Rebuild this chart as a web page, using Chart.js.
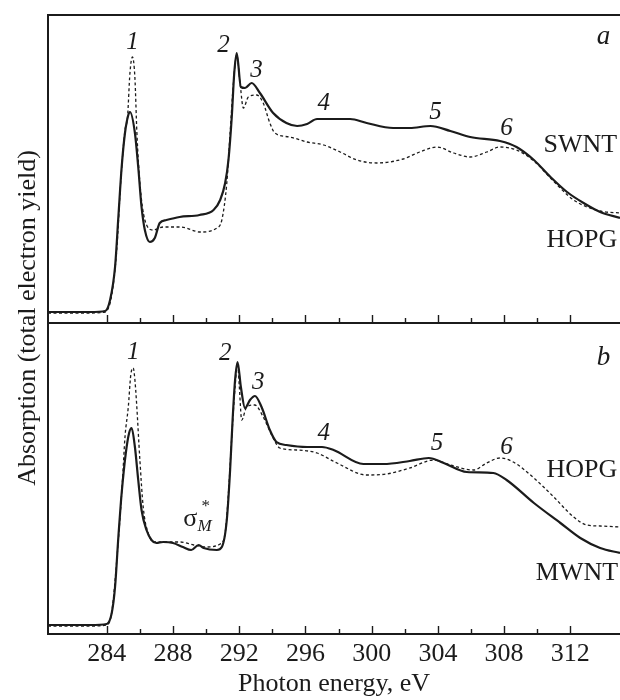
<!DOCTYPE html>
<html>
<head>
<meta charset="utf-8">
<script src="https://cdn.jsdelivr.net/npm/chart.js@4/dist/chart.umd.min.js"></script>
<style>
    html, body { margin: 0; padding: 0; background: #fff; }
    #wrap { width: 620px; height: 700px; }
</style>
</head>
<body>
<div id="wrap"><canvas id="xanes" width="620" height="700"></canvas></div>
<script>
// photon energy (eV) / absorption (arb. units)
// panel a
const swntE = [280.45, 283.0, 283.9, 284.2, 284.5, 284.7, 284.9, 285.1, 285.3, 285.4,
    285.7, 285.9, 286.1, 286.3, 286.6, 286.9, 287.2, 287.6, 288.4, 289.6,
    290.45, 290.85, 291.15, 291.35, 291.55, 291.7, 291.85, 292.1, 292.35, 292.75,
    293.25, 294.05, 294.85, 295.5, 296.1, 296.7, 298.1, 298.7, 299.7, 301.3,
    302.3, 303.55, 304.75, 305.95, 307.75, 308.75, 309.8, 310.8, 311.8, 312.8,
    313.8, 315.0];
const swntA = [0.11, 0.11, 0.12, 0.23, 0.56, 1.06, 1.56, 1.90, 2.08, 2.11,
    1.90, 1.56, 1.16, 0.93, 0.81, 0.85, 1.00, 1.03, 1.06, 1.08,
    1.13, 1.23, 1.40, 1.63, 2.06, 2.50, 2.70, 2.36, 2.35, 2.40,
    2.30, 2.10, 2.00, 1.97, 1.99, 2.04, 2.04, 2.04, 2.00, 1.95,
    1.95, 1.97, 1.92, 1.86, 1.82, 1.76, 1.63, 1.46, 1.31, 1.20,
    1.11, 1.05];
const hopgAE = [280.45, 283.0, 283.9, 284.3, 284.6, 284.85, 285.1, 285.25, 285.4, 285.55,
    285.7, 285.82, 286.0, 286.3, 286.8, 287.4, 288.45, 289.65, 290.65, 290.95,
    291.25, 291.45, 291.65, 291.85, 292.05, 292.25, 292.55, 293.05, 293.45, 293.85,
    294.15, 295.05, 296.1, 297.1, 298.1, 299.1, 300.3, 301.9, 302.9, 303.95,
    304.95, 305.95, 306.95, 307.75, 308.75, 309.8, 310.8, 312.2, 313.8, 315.0];
const hopgAA = [0.10, 0.10, 0.11, 0.28, 0.73, 1.43, 1.93, 2.05, 2.50, 2.66,
    2.45, 1.90, 1.40, 1.03, 0.93, 0.96, 0.96, 0.91, 0.95, 1.03,
    1.40, 1.90, 2.40, 2.68, 2.40, 2.15, 2.26, 2.28, 2.20, 2.00,
    1.90, 1.86, 1.81, 1.78, 1.71, 1.63, 1.60, 1.64, 1.71, 1.76,
    1.70, 1.66, 1.71, 1.76, 1.73, 1.62, 1.45, 1.23, 1.12, 1.10];
// panel b
const mwntE = [280.45, 283.0, 284.0, 284.3, 284.5, 284.7, 284.9, 285.15, 285.35, 285.5,
    285.7, 285.9, 286.1, 286.4, 286.7, 287.0, 287.4, 288.0, 288.6, 289.1,
    289.55, 289.85, 290.65, 290.95, 291.25, 291.45, 291.6, 291.75, 291.9, 292.1,
    292.35, 292.65, 292.95, 293.35, 293.85, 294.25, 294.85, 296.1, 297.0, 297.7,
    299.5, 300.7, 302.3, 303.45, 304.35, 305.75, 307.35, 308.15, 309.8, 311.4,
    312.6, 313.8, 315.0];
const mwntA = [0.09, 0.09, 0.10, 0.21, 0.47, 0.97, 1.41, 1.81, 2.01, 2.06,
    1.87, 1.54, 1.24, 1.04, 0.94, 0.91, 0.92, 0.91, 0.87, 0.84,
    0.89, 0.86, 0.84, 0.87, 1.14, 1.64, 2.14, 2.54, 2.72, 2.47,
    2.26, 2.34, 2.38, 2.27, 2.04, 1.92, 1.89, 1.87, 1.87, 1.84,
    1.70, 1.70, 1.73, 1.76, 1.71, 1.62, 1.61, 1.54, 1.31, 1.11,
    0.96, 0.86, 0.81];
const hopgBE = [280.45, 283.0, 284.0, 284.3, 284.7, 284.95, 285.1, 285.3, 285.45, 285.6,
    285.7, 285.8, 286.0, 286.2, 286.5, 286.9, 287.6, 288.45, 289.25, 290.05,
    290.85, 291.15, 291.35, 291.55, 291.75, 291.9, 292.0, 292.15, 292.45, 292.95,
    293.45, 294.05, 294.45, 295.45, 296.7, 297.9, 299.7, 300.9, 302.3, 303.75,
    304.75, 306.15, 306.95, 307.75, 308.55, 309.8, 311.0, 312.2, 313.0, 313.8,
    315.0];
const hopgBA = [0.08, 0.08, 0.09, 0.22, 0.94, 1.54, 1.97, 2.27, 2.59, 2.66,
    2.54, 2.31, 1.74, 1.27, 1.01, 0.92, 0.92, 0.92, 0.89, 0.87,
    0.90, 1.01, 1.41, 1.97, 2.47, 2.71, 2.49, 2.14, 2.27, 2.29,
    2.17, 1.96, 1.86, 1.84, 1.81, 1.71, 1.59, 1.60, 1.66, 1.74,
    1.69, 1.64, 1.71, 1.76, 1.72, 1.56, 1.37, 1.17, 1.09, 1.08,
    1.07];

const energyMin = 280.45;
const energyMax = 315.0;
const panelTopA = 3.08;
const panelTopB = 3.11;

// peak numbers and curve names: [text, panel, energy, absorption]
const peakLabels = [
    ['1', 'ya', 285.55, 2.81], ['2', 'ya', 291.05, 2.78], ['3', 'ya', 293.05, 2.53],
    ['4', 'ya', 297.1, 2.20], ['5', 'ya', 303.85, 2.11], ['6', 'ya', 308.15, 1.95],
    ['1', 'yb', 285.6, 2.82], ['2', 'yb', 291.15, 2.81], ['3', 'yb', 293.15, 2.52],
    ['4', 'yb', 297.1, 2.01], ['5', 'yb', 303.95, 1.91], ['6', 'yb', 308.15, 1.87]
];
const curveNames = [
    ['SWNT', 'ya', 312.6, 1.78], ['HOPG', 'ya', 312.7, 0.83],
    ['HOPG', 'yb', 312.7, 1.64], ['MWNT', 'yb', 312.4, 0.61]
];
const panelLetters = [['a', 'ya', 314.0, 2.86], ['b', 'yb', 314.0, 2.76]];

const ink = '#1b1b1b';
const serif = '"Liberation Serif", "DejaVu Serif", serif';

const pts = (es, as) => es.map((e, i) => ({ x: e, y: as[i] }));
const isMult = (v, n) => Math.abs(v / n - Math.round(v / n)) < 1e-6;

function solid(label, data, axis) {
    return { label, data, yAxisID: axis, borderColor: ink, borderWidth: 2.2,
        pointRadius: 0, cubicInterpolationMode: 'monotone', fill: false };
}
function dashed(label, data, axis) {
    return { label, data, yAxisID: axis, borderColor: ink, borderWidth: 1.3, borderDash: [3, 2.5],
        pointRadius: 0, cubicInterpolationMode: 'monotone', fill: false };
}

const panelDecor = {
    id: 'panelDecor',
    afterDatasetsDraw(chart) {
        const { ctx, chartArea: ca, scales } = chart;
        const x = scales.x, ya = scales.ya, yb = scales.yb;
        const mid = ya.bottom;
        ctx.save();
        ctx.strokeStyle = ink;
        ctx.lineWidth = 2;
        ctx.beginPath();
        ctx.moveTo(ca.left, ca.bottom);
        ctx.lineTo(ca.left, ca.top);
        ctx.lineTo(ca.right, ca.top);
        ctx.moveTo(ca.left, mid);
        ctx.lineTo(ca.right, mid);
        ctx.stroke();

        // ticks point inward, on the divider and on the bottom axis
        ctx.lineWidth = 1.4;
        ctx.beginPath();
        x.ticks.forEach(t => {
            if (!isMult(t.value, 2)) return;
            const len = isMult(t.value, 4) ? 8 : 5;
            const px = Math.round(x.getPixelForValue(t.value)) + 0.5;
            [mid, ca.bottom].forEach(yy => {
                ctx.moveTo(px, yy);
                ctx.lineTo(px, yy - len);
            });
        });
        ctx.stroke();

        ctx.fillStyle = ink;
        ctx.textAlign = 'center';
        ctx.textBaseline = 'middle';
        const put = (list, font) => {
            ctx.font = font;
            list.forEach(([txt, ax, e, a]) => {
                ctx.fillText(txt, x.getPixelForValue(e), scales[ax].getPixelForValue(a));
            });
        };
        put(peakLabels, 'italic 25px ' + serif);
        put(curveNames, '26px ' + serif);
        put(panelLetters, 'italic 27px ' + serif);

        // sigma*_M mark in panel b
        const sx = x.getPixelForValue(289.05), sy = yb.getPixelForValue(1.15);
        ctx.font = '26px ' + serif;
        ctx.fillText('σ', sx, sy);
        ctx.textAlign = 'left';
        ctx.font = 'italic 17px ' + serif;
        ctx.fillText('M', sx + 7, sy + 8);
        ctx.font = '17px ' + serif;
        ctx.fillText('*', sx + 11, sy - 12);

        // y title
        ctx.save();
        ctx.translate(35, 318);
        ctx.rotate(-Math.PI / 2);
        ctx.textAlign = 'center';
        ctx.textBaseline = 'alphabetic';
        ctx.font = '26px ' + serif;
        ctx.fillText('Absorption (total electron yield)', 0, 0);
        ctx.restore();
        ctx.restore();
    }
};

new Chart(document.getElementById('xanes'), {
    type: 'line',
    data: {
        datasets: [
            solid('SWNT', pts(swntE, swntA), 'ya'),
            dashed('HOPG (a)', pts(hopgAE, hopgAA), 'ya'),
            solid('MWNT', pts(mwntE, mwntA), 'yb'),
            dashed('HOPG (b)', pts(hopgBE, hopgBA), 'yb')
        ]
    },
    options: {
        responsive: false,
        devicePixelRatio: 1,
        animation: false,
        layout: { padding: { left: 48, top: 15, right: 0, bottom: 0 } },
        plugins: { legend: { display: false }, tooltip: { enabled: false } },
        scales: {
            x: {
                type: 'linear',
                min: energyMin,
                max: energyMax,
                position: 'bottom',
                afterFit: s => { s.height = 66; },
                grid: { display: false, drawTicks: true, tickLength: 5 },
                border: { display: true, color: ink, width: 2 },
                ticks: {
                    stepSize: 2,
                    autoSkip: false,
                    maxRotation: 0,
                    padding: 0,
                    color: ink,
                    font: { family: serif, size: 26 },
                    callback: v => isMult(v, 4) ? String(Math.round(v)) : ''
                },
                title: {
                    display: true,
                    text: 'Photon energy, eV',
                    color: ink,
                    font: { family: serif, size: 26 },
                    padding: { top: 0, bottom: 0 }
                }
            },
            // stacked panels: the last one listed ends up on top
            yb: { type: 'linear', position: 'left', stack: 'panels', stackWeight: 311,
                min: 0, max: panelTopB, display: false },
            ya: { type: 'linear', position: 'left', stack: 'panels', stackWeight: 308,
                min: 0, max: panelTopA, display: false }
        }
    },
    plugins: [panelDecor]
});
</script>
</body>
</html>
